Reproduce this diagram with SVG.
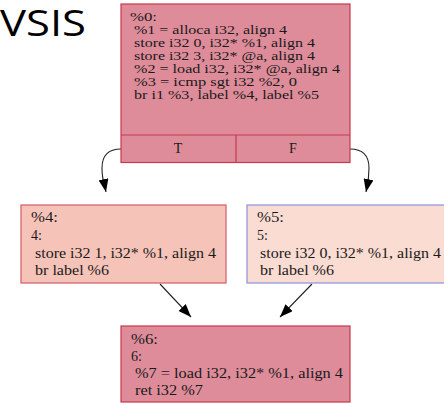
<svg xmlns="http://www.w3.org/2000/svg" width="444" height="405" viewBox="0 0 444 405">
  <style>
    .code { font-family: "Liberation Serif", "Times New Roman", serif; font-size: 14px; fill: #1a1a1a; }
    .code-sm { font-family: "Liberation Serif", "Times New Roman", serif; font-size: 12.5px; fill: #1a1a1a; }
    .port { font-family: "Liberation Serif", "Times New Roman", serif; font-size: 14px; fill: #1a1a1a; text-anchor: middle; }
    .title { font-family: "Open Sans", "Noto Sans", sans-serif; font-size: 37px; fill: #000; }
    .blk-red { fill: #de8c9a; stroke: #c8384e; stroke-width: 1.2; }
    .blk-salmon { fill: #f5c3b8; stroke: #d25a68; stroke-width: 1.2; }
    .blk-peach { fill: #fbdcd2; stroke: #8a92e0; stroke-width: 1.2; }
    .sep { stroke: #c8384e; stroke-width: 1.2; fill: none; }
    .edge { fill: none; stroke: #222; stroke-width: 1.1; }
  </style>
  <defs>
    <marker id="arrow" viewBox="0 0 13 10" refX="13" refY="5" markerWidth="13" markerHeight="10" markerUnits="userSpaceOnUse" orient="auto">
      <path d="M0,0 L13,5 L0,10 Z" fill="#000"/>
    </marker>
  </defs>

  <!-- slide heading -->
  <text class="title" x="0" y="36" textLength="86" lengthAdjust="spacingAndGlyphs">VSIS</text>

  <!-- control-flow edges -->
  <g id="edges">
    <path class="edge" d="M121,149 C108,149 102,156 102,168 C102,180 105,187 106,192" marker-end="url(#arrow)"/>
    <path class="edge" d="M350,149 C363,149 369,156 369,168 C369,180 367,187 366,192" marker-end="url(#arrow)"/>
    <path class="edge" d="M160,284 L191,317" marker-end="url(#arrow)"/>
    <path class="edge" d="M312,284 L280,317" marker-end="url(#arrow)"/>
  </g>

  <!-- entry block %0 with T/F branch ports -->
  <g id="block0">
    <rect class="blk-red" x="121" y="4" width="229" height="158.5"/>
    <line class="sep" x1="121" y1="135" x2="350" y2="135"/>
    <line class="sep" x1="236" y1="135" x2="236" y2="162.5"/>
    <text class="code-sm" x="130" y="21" textLength="27" lengthAdjust="spacingAndGlyphs">%0:</text>
    <text class="code-sm" x="134" y="34" textLength="153" lengthAdjust="spacingAndGlyphs">%1 = alloca i32, align 4</text>
    <text class="code-sm" x="134" y="47" textLength="181" lengthAdjust="spacingAndGlyphs">store i32 0, i32* %1, align 4</text>
    <text class="code-sm" x="134" y="60" textLength="181" lengthAdjust="spacingAndGlyphs">store i32 3, i32* @a, align 4</text>
    <text class="code-sm" x="134" y="73" textLength="206" lengthAdjust="spacingAndGlyphs">%2 = load i32, i32* @a, align 4</text>
    <text class="code-sm" x="134" y="86" textLength="163" lengthAdjust="spacingAndGlyphs">%3 = icmp sgt i32 %2, 0</text>
    <text class="code-sm" x="134" y="99" textLength="185" lengthAdjust="spacingAndGlyphs">br i1 %3, label %4, label %5</text>
    <text class="port" x="178" y="153">T</text>
    <text class="port" x="293" y="153">F</text>
  </g>

  <!-- block %4 (true branch) -->
  <g id="block4">
    <rect class="blk-salmon" x="21" y="205" width="205" height="78"/>
    <text class="code" x="31" y="222" textLength="27" lengthAdjust="spacingAndGlyphs">%4:</text>
    <text class="code" x="31" y="240">4:</text>
    <text class="code" x="35" y="258" textLength="181" lengthAdjust="spacingAndGlyphs">store i32 1, i32* %1, align 4</text>
    <text class="code" x="35" y="275" textLength="74" lengthAdjust="spacingAndGlyphs">br label %6</text>
  </g>

  <!-- block %5 (false branch) -->
  <g id="block5">
    <rect class="blk-peach" x="247" y="205" width="205" height="78"/>
    <text class="code" x="257" y="222" textLength="27" lengthAdjust="spacingAndGlyphs">%5:</text>
    <text class="code" x="257" y="240">5:</text>
    <text class="code" x="260" y="258" textLength="181" lengthAdjust="spacingAndGlyphs">store i32 0, i32* %1, align 4</text>
    <text class="code" x="260" y="275" textLength="74" lengthAdjust="spacingAndGlyphs">br label %6</text>
  </g>

  <!-- merge block %6 -->
  <g id="block6">
    <rect class="blk-red" x="121" y="326" width="229" height="76"/>
    <text class="code" x="131" y="344" textLength="27" lengthAdjust="spacingAndGlyphs">%6:</text>
    <text class="code" x="131" y="361">6:</text>
    <text class="code" x="135" y="378" textLength="208" lengthAdjust="spacingAndGlyphs">%7 = load i32, i32* %1, align 4</text>
    <text class="code" x="135" y="395" textLength="68" lengthAdjust="spacingAndGlyphs">ret i32 %7</text>
  </g>
</svg>
